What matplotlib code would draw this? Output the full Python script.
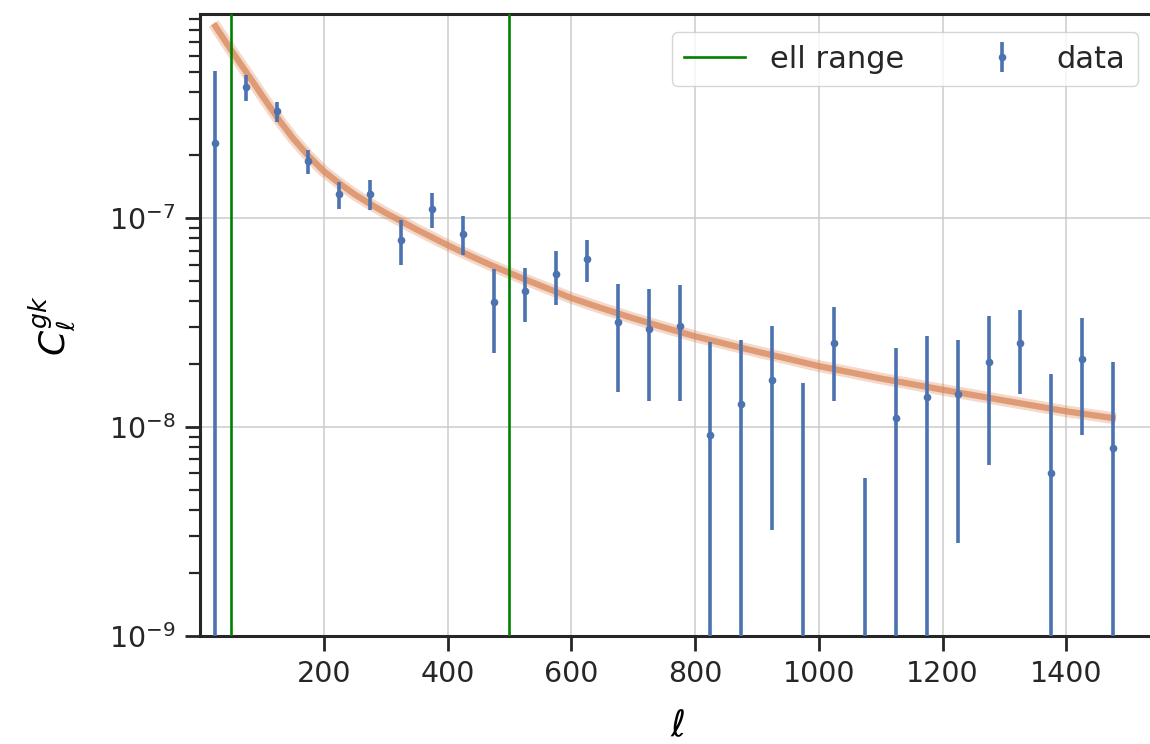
import numpy as np
import matplotlib
matplotlib.use("Agg")
import matplotlib.pyplot as plt

# binned cross-spectrum
ell = [25, 75, 125, 175, 225, 275, 325, 375, 425, 475,
       525, 575, 625, 675, 725, 775, 825, 875, 925, 975,
       1025, 1075, 1125, 1175, 1225, 1275, 1325, 1375, 1425, 1475]
cl = [2.29e-7, 4.25e-7, 3.25e-7, 1.87e-7, 1.30e-7, 1.31e-7, 7.9e-8, 1.11e-7, 8.45e-8, 3.98e-8,
      4.49e-8, 5.38e-8, 6.41e-8, 3.17e-8, 2.95e-8, 3.05e-8, 9.2e-9, 1.29e-8, 1.69e-8, -3.0e-9,
      2.54e-8, -9.0e-9, 1.11e-8, 1.39e-8, 1.44e-8, 2.04e-8, 2.54e-8, 6.0e-9, 2.12e-8, 7.9e-9]
cl_err = [2.78e-7, 6.2e-8, 3.7e-8, 2.5e-8, 1.9e-8, 2.1e-8, 1.95e-8, 2.1e-8, 1.8e-8, 1.72e-8,
          1.3e-8, 1.55e-8, 1.45e-8, 1.7e-8, 1.62e-8, 1.72e-8, 1.64e-8, 1.33e-8, 1.37e-8, 1.92e-8,
          1.2e-8, 1.47e-8, 1.27e-8, 1.34e-8, 1.16e-8, 1.38e-8, 1.1e-8, 1.2e-8, 1.2e-8, 1.25e-8]

# model curve
ell_model = [22, 50, 75, 100, 125, 150, 175, 200, 225, 250, 275, 300, 325, 350, 375,
             400, 425, 450, 475, 500, 525, 562, 600, 650, 700, 750, 800, 900, 1000,
             1100, 1200, 1300, 1400, 1480]
cl_model = [8.55e-7, 6.40e-7, 4.99e-7, 3.88e-7, 3.03e-7, 2.42e-7, 1.99e-7, 1.68e-7, 1.47e-7,
            1.30e-7, 1.17e-7, 1.06e-7, 9.68e-8, 8.83e-8, 8.10e-8, 7.43e-8, 6.86e-8, 6.34e-8,
            5.88e-8, 5.47e-8, 5.10e-8, 4.61e-8, 4.15e-8, 3.70e-8, 3.32e-8, 3.00e-8, 2.72e-8,
            2.30e-8, 1.96e-8, 1.71e-8, 1.51e-8, 1.34e-8, 1.19e-8, 1.10e-8]

ell_range = [50, 500]

plt.rcParams['font.family'] = ['DejaVu Sans']
plt.rcParams['axes.edgecolor'] = '#262626'
plt.rcParams['xtick.color'] = '#262626'
plt.rcParams['ytick.color'] = '#262626'
plt.rcParams['text.color'] = '#262626'

fig = plt.figure(figsize=(11.5, 7.44), dpi=100)
ax = fig.add_axes([200/1150, 108/744, 956/1150, 622/744])

ax.grid(True, color='#cccccc', lw=1.1, zorder=0)
ax.set_axisbelow(True)

ax.plot(ell_model, cl_model, color='#dd8452', lw=8.5, alpha=0.3, solid_capstyle='butt',
        solid_joinstyle='round', zorder=2)
ax.plot(ell_model, cl_model, color='#d9875a', lw=4.5, alpha=0.75, solid_capstyle='butt',
        solid_joinstyle='round', zorder=2)

ax.axvline(ell_range[0], color='green', lw=1.9, label='ell range', zorder=3)
ax.axvline(ell_range[1], color='green', lw=1.9, zorder=3)

ax.errorbar(ell, cl, yerr=cl_err, ls='none', marker='o', ms=4.5, color='#4c72b0',
            elinewidth=2.6, label='data', zorder=4)

ax.set_yscale('log')
ax.set_xlim(0, 1545)
ax.set_ylim(1e-9, 9.5e-7)
ax.set_xticks([200, 400, 600, 800, 1000, 1200, 1400])

for s in ax.spines.values():
    s.set_linewidth(2.2)

ax.tick_params(axis='both', which='major', labelsize=20.5, length=10.5, width=2, pad=7)
ax.tick_params(axis='y', which='minor', length=8, width=1.6)
ax.tick_params(axis='x', which='minor', bottom=False)

ax.set_xlabel(r'$\ell$', fontsize=26, labelpad=15)
ax.set_ylabel(r'$C_\ell^{gk}$', fontsize=26)
ax.yaxis.set_label_coords(-0.128, 0.5)

leg = ax.legend(loc='upper right', ncol=2, fontsize=22, framealpha=0.8,
                edgecolor='#cccccc', borderaxespad=0.6, columnspacing=2.2)

fig.savefig('out.png', dpi=100)
